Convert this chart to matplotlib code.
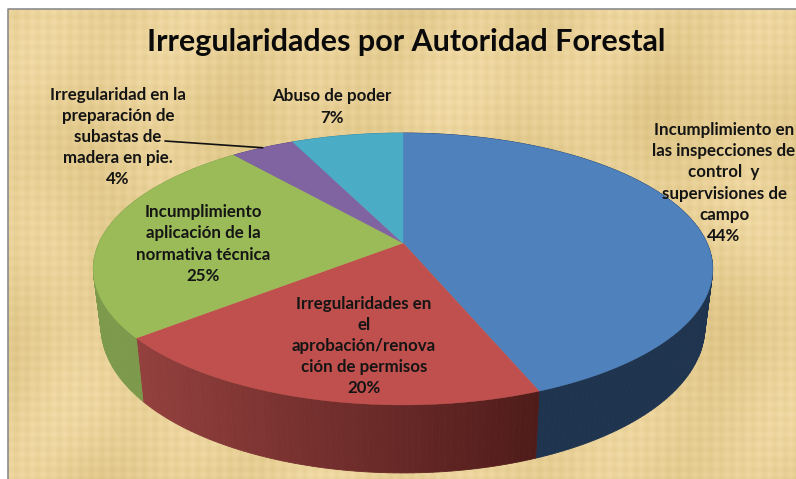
import numpy as np
import matplotlib
matplotlib.use("Agg")
import matplotlib.pyplot as plt
from matplotlib.colors import to_rgb

plt.rcParams['font.family'] = ['Lato', 'DejaVu Sans']

title = "Irregularidades por Autoridad Forestal"
categories = [
    "Incumplimiento en\nlas inspecciones de\ncontrol  y\nsupervisiones de\ncampo",
    "Irregularidades en\nel\naprobación/renova\nción de permisos",
    "Incumplimiento\naplicación de la\nnormativa técnica",
    "Irregularidad en la\npreparación de\nsubastas de\nmadera en pie.",
    "Abuso de poder",
]
values = [44, 20, 25, 4, 7]
top_colors = ["#4F81BD", "#C0504D", "#9BBB59", "#8064A2", "#4BACC6"]
wall_left = ["#1F344F", "#93403E", "#7D9A4C", "#5A4675", "#357A8C"]
wall_right = ["#1F344F", "#4F1C1A", "#7D9A4C", "#5A4675", "#357A8C"]
label_pos = [(724, 183), (364, 346), (203, 244), (118, 137), (332, 107)]

W, H = 796, 479
fig = plt.figure(figsize=(W / 100, H / 100), dpi=100, facecolor="white")
ax = fig.add_axes([0, 0, 1, 1])
ax.set_xlim(0, W)
ax.set_ylim(H, 0)
ax.axis("off")

# parchment background: woven, deterministic texture
xx, yy = np.meshgrid(np.arange(W - 8), np.arange(H - 9))
tex = (0.40 * np.sin(xx / 1.7) + 0.35 * np.sin(yy / 1.6)
       + 0.55 * np.sin(xx / 23.0 + 1.3 * np.sin(yy / 70.0))
       + 0.45 * np.sin(yy / 31.0 + 1.1 * np.sin(xx / 90.0))
       + 0.50 * np.sin(xx / 61.0) * np.sin(yy / 47.0))
base = np.array(to_rgb("#E7CF95"))
bg = np.clip(base[None, None, :] + (tex * 0.024)[..., None] * np.array([1.0, 1.1, 1.6]), 0, 1)
ax.imshow(bg, extent=(8, W, H, 9), aspect="auto", interpolation="bilinear", zorder=0)
ax.set_xlim(0, W)
ax.set_ylim(H, 0)
ax.plot([7.5, 7.5, W], [H, 8.5, 8.5], color="#8C8C8C", lw=1.2, zorder=1)

# perspective model of the pie disc
HUB_X, HUB_Y = 403, 243
P, A, B = 0.191, 131, 304


def project(theta, lower=False):
    """theta in degrees clockwise from the top of the pie -> pixel position."""
    t = np.radians(theta)
    u, v = np.sin(t), np.cos(t)
    d = 1 + P * v
    x, y = B * u / d, -A * v / d
    if lower:
        x = x * 0.975
        y = y + 55 - 13 * v
    return HUB_X + x, HUB_Y + y


edges = np.concatenate([[0], np.cumsum(values)]) / np.sum(values) * 360
spans = list(zip(edges[:-1], edges[1:]))

# side walls
for (a, b), cl, cr in zip(spans, wall_left, wall_right):
    n = max(int((b - a) / 1.0), 2)
    th = np.linspace(a, b, n + 1)
    tx, ty = project(th)
    bx, by = project(th, lower=True)
    xmin, xmax = tx.min(), tx.max()
    c0, c1 = np.array(to_rgb(cl)), np.array(to_rgb(cr))
    for i in range(n):
        f = ((tx[i] + tx[i + 1]) / 2 - xmin) / max(xmax - xmin, 1)
        col = c0 + (c1 - c0) * f
        ax.fill([tx[i], tx[i + 1], bx[i + 1], bx[i]],
                [ty[i], ty[i + 1], by[i + 1], by[i]],
                facecolor=col, edgecolor=col, lw=0.6, zorder=2)

# top faces
for (a, b), c in zip(spans, top_colors):
    th = np.linspace(a, b, max(int(b - a), 2) * 2 + 1)
    x, y = project(th)
    ax.fill(np.r_[HUB_X, x], np.r_[HUB_Y, y], facecolor=c, edgecolor=c, lw=0.3, zorder=3)

# labels
for cat, val, (lx, ly) in zip(categories, values, label_pos):
    ax.text(lx, ly, f"{cat}\n{val}%", ha="center", va="center", multialignment="center",
            fontsize=12.2, fontweight="bold", color="#141414", linespacing=1.39, zorder=5,
            clip_on=True)

# leader line of the small slice
mid = (spans[3][0] + spans[3][1]) / 2
ax.annotate("", xy=project(mid), xytext=(165, 141),
            arrowprops=dict(arrowstyle="-", color="#111111", lw=1.2, shrinkA=0, shrinkB=0), zorder=6)

ax.text(406, 42, title, ha="center", va="center", fontsize=22, fontweight="bold", color="#0A0A0A", zorder=5)

fig.savefig("out.png", dpi=100, facecolor="white")
